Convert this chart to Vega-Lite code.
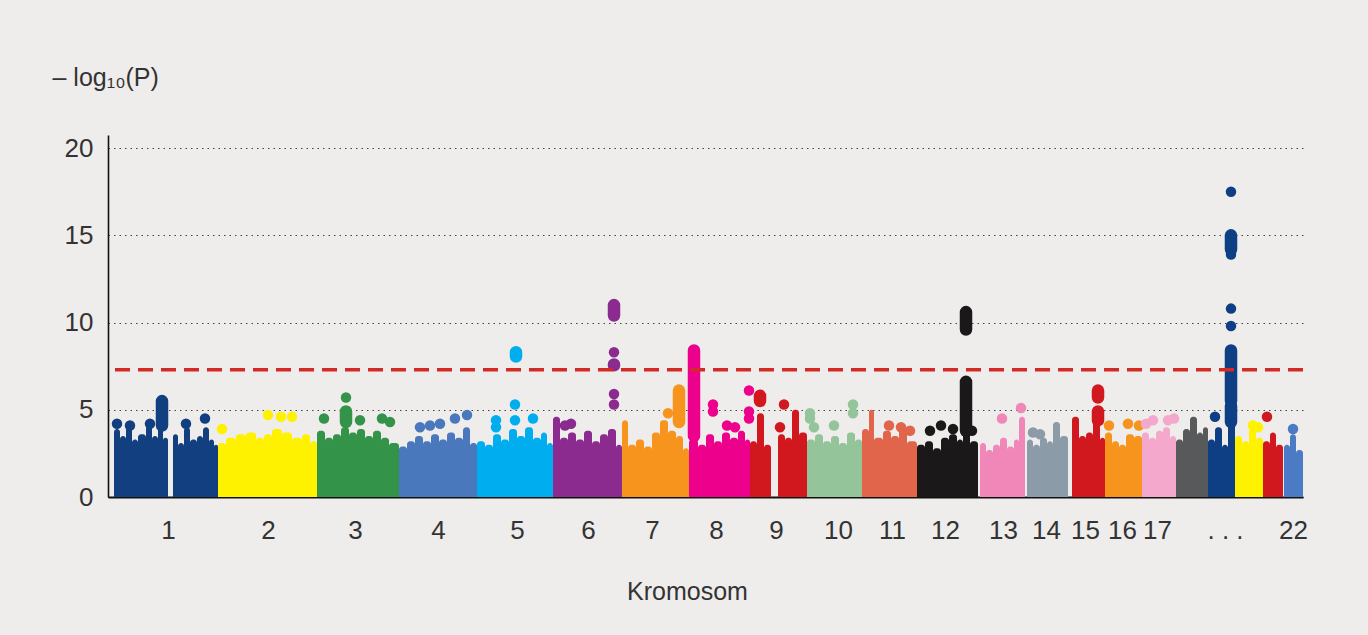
{
  "$schema": "https://vega.github.io/schema/vega-lite/v6.json",
  "width": 1195,
  "height": 362,
  "autosize": {"type": "none"},
  "padding": {"left": 108, "top": 135, "right": 65, "bottom": 138},
  "background": "#eeedeb",
  "config": {
    "view": {"stroke": null},
    "font": "Liberation Sans",
    "axis": {"labelFont": "Liberation Sans", "titleFont": "Liberation Sans", "labelColor": "#333333", "titleColor": "#333333"}
  },
  "datasets": {
    "mass": [
      {"chr": "1", "x": 114, "x2": 120, "top": 3.9},
      {"chr": "1", "x": 120, "x2": 126, "top": 3.5},
      {"chr": "1", "x": 126, "x2": 132, "top": 4.0},
      {"chr": "1", "x": 132, "x2": 138, "top": 3.3},
      {"chr": "1", "x": 138, "x2": 146, "top": 3.6},
      {"chr": "1", "x": 146, "x2": 152, "top": 4.1},
      {"chr": "1", "x": 152, "x2": 158, "top": 3.5},
      {"chr": "1", "x": 158, "x2": 163, "top": 4.3},
      {"chr": "1", "x": 163, "x2": 168, "top": 3.4},
      {"chr": "1", "x": 173, "x2": 178, "top": 3.6},
      {"chr": "1", "x": 178, "x2": 184, "top": 3.1},
      {"chr": "1", "x": 184, "x2": 190, "top": 4.0},
      {"chr": "1", "x": 190, "x2": 197, "top": 3.3},
      {"chr": "1", "x": 197, "x2": 203, "top": 3.5},
      {"chr": "1", "x": 203, "x2": 209, "top": 4.0},
      {"chr": "1", "x": 209, "x2": 214, "top": 3.3},
      {"chr": "1", "x": 214, "x2": 218, "top": 3.0},
      {"chr": "2", "x": 218, "x2": 226, "top": 3.1},
      {"chr": "2", "x": 226, "x2": 236, "top": 3.4},
      {"chr": "2", "x": 236, "x2": 246, "top": 3.6},
      {"chr": "2", "x": 246, "x2": 256, "top": 3.7},
      {"chr": "2", "x": 256, "x2": 264, "top": 3.4},
      {"chr": "2", "x": 264, "x2": 272, "top": 3.6},
      {"chr": "2", "x": 272, "x2": 282, "top": 3.9},
      {"chr": "2", "x": 282, "x2": 292, "top": 3.7},
      {"chr": "2", "x": 292, "x2": 302, "top": 3.4},
      {"chr": "2", "x": 302, "x2": 310, "top": 3.6},
      {"chr": "2", "x": 310, "x2": 317, "top": 3.2},
      {"chr": "3", "x": 317, "x2": 325, "top": 3.8},
      {"chr": "3", "x": 325, "x2": 333, "top": 3.4},
      {"chr": "3", "x": 333, "x2": 341, "top": 3.6},
      {"chr": "3", "x": 341, "x2": 349, "top": 4.0},
      {"chr": "3", "x": 349, "x2": 357, "top": 3.7},
      {"chr": "3", "x": 357, "x2": 365, "top": 3.9},
      {"chr": "3", "x": 365, "x2": 373, "top": 3.5},
      {"chr": "3", "x": 373, "x2": 381, "top": 3.8},
      {"chr": "3", "x": 381, "x2": 389, "top": 3.4},
      {"chr": "3", "x": 389, "x2": 399, "top": 3.1},
      {"chr": "4", "x": 399, "x2": 407, "top": 2.9},
      {"chr": "4", "x": 407, "x2": 415, "top": 3.2},
      {"chr": "4", "x": 415, "x2": 423, "top": 3.5},
      {"chr": "4", "x": 423, "x2": 431, "top": 3.2},
      {"chr": "4", "x": 431, "x2": 439, "top": 3.6},
      {"chr": "4", "x": 439, "x2": 447, "top": 3.3},
      {"chr": "4", "x": 447, "x2": 455, "top": 3.7},
      {"chr": "4", "x": 455, "x2": 463, "top": 3.4},
      {"chr": "4", "x": 463, "x2": 470, "top": 4.0},
      {"chr": "4", "x": 470, "x2": 477, "top": 3.1},
      {"chr": "5", "x": 477, "x2": 485, "top": 3.2},
      {"chr": "5", "x": 485, "x2": 493, "top": 3.0},
      {"chr": "5", "x": 493, "x2": 501, "top": 3.6},
      {"chr": "5", "x": 501, "x2": 509, "top": 3.3},
      {"chr": "5", "x": 509, "x2": 517, "top": 3.9},
      {"chr": "5", "x": 517, "x2": 525, "top": 3.5},
      {"chr": "5", "x": 525, "x2": 533, "top": 4.0},
      {"chr": "5", "x": 533, "x2": 541, "top": 3.4},
      {"chr": "5", "x": 541, "x2": 547, "top": 3.7},
      {"chr": "5", "x": 547, "x2": 553, "top": 3.1},
      {"chr": "6", "x": 553, "x2": 560, "top": 4.6},
      {"chr": "6", "x": 560, "x2": 568, "top": 3.4},
      {"chr": "6", "x": 568, "x2": 576, "top": 3.7},
      {"chr": "6", "x": 576, "x2": 584, "top": 3.3},
      {"chr": "6", "x": 584, "x2": 592, "top": 3.8},
      {"chr": "6", "x": 592, "x2": 600, "top": 3.2},
      {"chr": "6", "x": 600, "x2": 608, "top": 3.6},
      {"chr": "6", "x": 608, "x2": 616, "top": 3.9},
      {"chr": "6", "x": 616, "x2": 622, "top": 3.0},
      {"chr": "7", "x": 622, "x2": 628, "top": 4.4},
      {"chr": "7", "x": 628, "x2": 636, "top": 3.0},
      {"chr": "7", "x": 636, "x2": 644, "top": 3.3},
      {"chr": "7", "x": 644, "x2": 652, "top": 2.9},
      {"chr": "7", "x": 652, "x2": 660, "top": 3.7},
      {"chr": "7", "x": 660, "x2": 668, "top": 4.4},
      {"chr": "7", "x": 668, "x2": 676, "top": 3.8},
      {"chr": "7", "x": 676, "x2": 683, "top": 3.5},
      {"chr": "7", "x": 683, "x2": 689, "top": 2.8},
      {"chr": "8", "x": 689, "x2": 698, "top": 3.3},
      {"chr": "8", "x": 698, "x2": 706, "top": 3.0},
      {"chr": "8", "x": 706, "x2": 714, "top": 3.6},
      {"chr": "8", "x": 714, "x2": 722, "top": 3.2},
      {"chr": "8", "x": 722, "x2": 730, "top": 3.7},
      {"chr": "8", "x": 730, "x2": 738, "top": 3.4},
      {"chr": "8", "x": 738, "x2": 745, "top": 3.8},
      {"chr": "8", "x": 745, "x2": 750, "top": 3.3},
      {"chr": "9", "x": 750, "x2": 757, "top": 3.2},
      {"chr": "9", "x": 757, "x2": 764, "top": 4.8},
      {"chr": "9", "x": 764, "x2": 771, "top": 3.0},
      {"chr": "9", "x": 778, "x2": 785, "top": 3.6},
      {"chr": "9", "x": 785, "x2": 792, "top": 3.4},
      {"chr": "9", "x": 792, "x2": 799, "top": 5.0},
      {"chr": "9", "x": 799, "x2": 807, "top": 3.7},
      {"chr": "10", "x": 807, "x2": 815, "top": 3.3},
      {"chr": "10", "x": 815, "x2": 823, "top": 3.6},
      {"chr": "10", "x": 823, "x2": 831, "top": 3.2},
      {"chr": "10", "x": 831, "x2": 839, "top": 3.5},
      {"chr": "10", "x": 839, "x2": 847, "top": 3.1},
      {"chr": "10", "x": 847, "x2": 855, "top": 3.7},
      {"chr": "10", "x": 855, "x2": 862, "top": 3.3},
      {"chr": "11", "x": 862, "x2": 869, "top": 3.9},
      {"chr": "11", "x": 869, "x2": 874, "top": 5.0},
      {"chr": "11", "x": 874, "x2": 883, "top": 3.4},
      {"chr": "11", "x": 883, "x2": 891, "top": 3.8},
      {"chr": "11", "x": 891, "x2": 899, "top": 3.5},
      {"chr": "11", "x": 899, "x2": 907, "top": 3.9},
      {"chr": "11", "x": 907, "x2": 917, "top": 3.2},
      {"chr": "12", "x": 917, "x2": 925, "top": 3.0},
      {"chr": "12", "x": 925, "x2": 933, "top": 3.2},
      {"chr": "12", "x": 933, "x2": 941, "top": 2.8},
      {"chr": "12", "x": 941, "x2": 949, "top": 3.4},
      {"chr": "12", "x": 949, "x2": 957, "top": 3.6},
      {"chr": "12", "x": 957, "x2": 963, "top": 3.3},
      {"chr": "12", "x": 963, "x2": 970, "top": 4.5},
      {"chr": "12", "x": 970, "x2": 978, "top": 3.2},
      {"chr": "13", "x": 980, "x2": 986, "top": 3.1},
      {"chr": "13", "x": 986, "x2": 993, "top": 2.7},
      {"chr": "13", "x": 993, "x2": 1000, "top": 3.0},
      {"chr": "13", "x": 1000, "x2": 1007, "top": 3.4},
      {"chr": "13", "x": 1007, "x2": 1014, "top": 2.9},
      {"chr": "13", "x": 1014, "x2": 1019, "top": 3.3},
      {"chr": "13", "x": 1019, "x2": 1025, "top": 4.6},
      {"chr": "14", "x": 1027, "x2": 1033, "top": 3.3},
      {"chr": "14", "x": 1033, "x2": 1040, "top": 3.0},
      {"chr": "14", "x": 1040, "x2": 1047, "top": 3.4},
      {"chr": "14", "x": 1047, "x2": 1053, "top": 3.2},
      {"chr": "14", "x": 1053, "x2": 1060, "top": 4.3},
      {"chr": "14", "x": 1060, "x2": 1068, "top": 3.5},
      {"chr": "15", "x": 1072, "x2": 1079, "top": 4.6},
      {"chr": "15", "x": 1079, "x2": 1086, "top": 3.5},
      {"chr": "15", "x": 1086, "x2": 1093, "top": 3.7},
      {"chr": "15", "x": 1093, "x2": 1100, "top": 4.8},
      {"chr": "15", "x": 1100, "x2": 1105, "top": 3.4},
      {"chr": "16", "x": 1105, "x2": 1112, "top": 3.7},
      {"chr": "16", "x": 1112, "x2": 1119, "top": 3.2},
      {"chr": "16", "x": 1119, "x2": 1126, "top": 3.0},
      {"chr": "16", "x": 1126, "x2": 1134, "top": 3.6},
      {"chr": "16", "x": 1134, "x2": 1142, "top": 3.5},
      {"chr": "17", "x": 1142, "x2": 1149, "top": 3.7},
      {"chr": "17", "x": 1149, "x2": 1156, "top": 3.4},
      {"chr": "17", "x": 1156, "x2": 1163, "top": 3.8},
      {"chr": "17", "x": 1163, "x2": 1170, "top": 4.0},
      {"chr": "17", "x": 1170, "x2": 1176, "top": 3.5},
      {"chr": "18", "x": 1176, "x2": 1183, "top": 3.3},
      {"chr": "18", "x": 1183, "x2": 1190, "top": 3.9},
      {"chr": "18", "x": 1190, "x2": 1197, "top": 4.6},
      {"chr": "18", "x": 1197, "x2": 1203, "top": 3.7},
      {"chr": "18", "x": 1203, "x2": 1208, "top": 4.0},
      {"chr": "19", "x": 1208, "x2": 1215, "top": 3.3},
      {"chr": "19", "x": 1215, "x2": 1222, "top": 4.0},
      {"chr": "19", "x": 1222, "x2": 1228, "top": 3.0},
      {"chr": "19", "x": 1228, "x2": 1235, "top": 4.4},
      {"chr": "20", "x": 1235, "x2": 1242, "top": 3.5},
      {"chr": "20", "x": 1242, "x2": 1249, "top": 3.2},
      {"chr": "20", "x": 1249, "x2": 1256, "top": 3.9},
      {"chr": "20", "x": 1256, "x2": 1263, "top": 3.4},
      {"chr": "21", "x": 1263, "x2": 1270, "top": 3.2},
      {"chr": "21", "x": 1270, "x2": 1276, "top": 3.7},
      {"chr": "21", "x": 1276, "x2": 1283, "top": 3.0},
      {"chr": "22", "x": 1284, "x2": 1290, "top": 3.0},
      {"chr": "22", "x": 1290, "x2": 1296, "top": 3.6},
      {"chr": "22", "x": 1296, "x2": 1303, "top": 2.7}
    ],
    "spikes": [
      {"chr": "1", "x": 162, "lo": 4.1, "hi": 5.5},
      {"chr": "3", "x": 346, "lo": 4.3, "hi": 4.9},
      {"chr": "5", "x": 516, "lo": 8.05, "hi": 8.3},
      {"chr": "6", "x": 614, "lo": 10.4, "hi": 11.0},
      {"chr": "6", "x": 614, "lo": 7.55, "hi": 7.6},
      {"chr": "7", "x": 679, "lo": 4.3, "hi": 6.1},
      {"chr": "8", "x": 694, "lo": 3.5, "hi": 8.4},
      {"chr": "9", "x": 760, "lo": 5.5, "hi": 5.8},
      {"chr": "12", "x": 966, "lo": 9.6, "hi": 10.6},
      {"chr": "12", "x": 966, "lo": 3.8, "hi": 6.6},
      {"chr": "15", "x": 1098, "lo": 5.7, "hi": 6.1},
      {"chr": "15", "x": 1098, "lo": 4.4, "hi": 4.9},
      {"chr": "19", "x": 1231, "lo": 5.5, "hi": 8.4},
      {"chr": "19", "x": 1231, "lo": 4.3, "hi": 5.2},
      {"chr": "19", "x": 1231, "lo": 14.2, "hi": 15.0}
    ],
    "dots": [
      {"chr": "1", "x": 117, "y": 4.2},
      {"chr": "1", "x": 130, "y": 4.1},
      {"chr": "1", "x": 150, "y": 4.2},
      {"chr": "1", "x": 186, "y": 4.2},
      {"chr": "1", "x": 205, "y": 4.5},
      {"chr": "2", "x": 222, "y": 3.9},
      {"chr": "2", "x": 268, "y": 4.7},
      {"chr": "2", "x": 281, "y": 4.6},
      {"chr": "2", "x": 292, "y": 4.6},
      {"chr": "3", "x": 346, "y": 5.7},
      {"chr": "3", "x": 324, "y": 4.5},
      {"chr": "3", "x": 360, "y": 4.4},
      {"chr": "3", "x": 382, "y": 4.5},
      {"chr": "3", "x": 390, "y": 4.3},
      {"chr": "4", "x": 420, "y": 4.0},
      {"chr": "4", "x": 430, "y": 4.1},
      {"chr": "4", "x": 440, "y": 4.2},
      {"chr": "4", "x": 455, "y": 4.5},
      {"chr": "4", "x": 467, "y": 4.7},
      {"chr": "5", "x": 496, "y": 4.4},
      {"chr": "5", "x": 496, "y": 4.0},
      {"chr": "5", "x": 515, "y": 5.3},
      {"chr": "5", "x": 515, "y": 4.4},
      {"chr": "5", "x": 533, "y": 4.5},
      {"chr": "6", "x": 614, "y": 8.3},
      {"chr": "6", "x": 614, "y": 5.9},
      {"chr": "6", "x": 614, "y": 5.3},
      {"chr": "6", "x": 565, "y": 4.1},
      {"chr": "6", "x": 571, "y": 4.2},
      {"chr": "7", "x": 668, "y": 4.8},
      {"chr": "8", "x": 713, "y": 5.3},
      {"chr": "8", "x": 713, "y": 4.9},
      {"chr": "8", "x": 727, "y": 4.1},
      {"chr": "8", "x": 735, "y": 4.0},
      {"chr": "8", "x": 749, "y": 6.1},
      {"chr": "8", "x": 749, "y": 4.9},
      {"chr": "8", "x": 749, "y": 4.5},
      {"chr": "9", "x": 784, "y": 5.3},
      {"chr": "9", "x": 780, "y": 4.0},
      {"chr": "10", "x": 810, "y": 4.8},
      {"chr": "10", "x": 810, "y": 4.5},
      {"chr": "10", "x": 814, "y": 4.0},
      {"chr": "10", "x": 834, "y": 4.1},
      {"chr": "10", "x": 853, "y": 5.3},
      {"chr": "10", "x": 853, "y": 4.8},
      {"chr": "11", "x": 889, "y": 4.1},
      {"chr": "11", "x": 901, "y": 4.0},
      {"chr": "11", "x": 910, "y": 3.8},
      {"chr": "12", "x": 930, "y": 3.8},
      {"chr": "12", "x": 941, "y": 4.1},
      {"chr": "12", "x": 953, "y": 3.9},
      {"chr": "12", "x": 972, "y": 3.8},
      {"chr": "13", "x": 1021, "y": 5.1},
      {"chr": "13", "x": 1002, "y": 4.5},
      {"chr": "14", "x": 1033, "y": 3.7},
      {"chr": "14", "x": 1040, "y": 3.6},
      {"chr": "16", "x": 1109, "y": 4.1},
      {"chr": "16", "x": 1128, "y": 4.2},
      {"chr": "16", "x": 1139, "y": 4.1},
      {"chr": "17", "x": 1146, "y": 4.2},
      {"chr": "17", "x": 1153, "y": 4.4},
      {"chr": "17", "x": 1168, "y": 4.4},
      {"chr": "17", "x": 1174, "y": 4.5},
      {"chr": "19", "x": 1215, "y": 4.6},
      {"chr": "19", "x": 1231, "y": 9.8},
      {"chr": "19", "x": 1231, "y": 10.8},
      {"chr": "19", "x": 1231, "y": 13.9},
      {"chr": "19", "x": 1231, "y": 17.5},
      {"chr": "20", "x": 1253, "y": 4.1},
      {"chr": "20", "x": 1258, "y": 4.0},
      {"chr": "21", "x": 1267, "y": 4.6},
      {"chr": "22", "x": 1293, "y": 3.9}
    ],
    "threshold": [{"p": 7.3}]
  },
  "layer": [
    {
      "data": {"name": "mass"},
      "mark": {"type": "rect", "cornerRadiusTopLeft": 3, "cornerRadiusTopRight": 3},
      "encoding": {
        "x": {
          "field": "x", "type": "quantitative",
          "scale": {"domain": [108, 1303], "nice": false, "zero": false},
          "axis": {
            "values": [168, 268, 355, 438, 517, 588, 652, 716, 776, 838, 892, 945, 1003, 1046, 1085, 1122, 1157, 1225, 1293],
            "labelExpr": "['1','2','3','4','5','6','7','8','9','10','11','12','13','14','15','16','17','. . .','22'][indexof([168,268,355,438,517,588,652,716,776,838,892,945,1003,1046,1085,1122,1157,1225,1293], datum.value)]",
            "ticks": false, "grid": false,
            "domainColor": "#111111", "domainWidth": 2,
            "labelFontSize": 26, "labelPadding": 20, "labelFlush": false, "labelOverlap": false,
            "title": "Kromosom", "titleFontSize": 25, "titleFontWeight": "normal",
            "titleX": 579, "titleY": 102, "titleAlign": "center", "titleBaseline": "alphabetic"
          }
        },
        "x2": {"field": "x2"},
        "y": {
          "field": "top", "type": "quantitative",
          "scale": {"domain": [0, 20.75], "nice": false},
          "axis": {
            "values": [0, 5, 10, 15, 20],
            "ticks": false,
            "domainColor": "#111111", "domainWidth": 1.6,
            "grid": true, "gridColor": "#444444", "gridDash": [1.5, 4], "gridWidth": 1.2,
            "labelFontSize": 26, "labelPadding": 15,
            "title": "– log₁₀(P)", "titleAngle": 0, "titleFontSize": 25, "titleFontWeight": "normal",
            "titleX": -56, "titleY": -50, "titleAlign": "left", "titleBaseline": "alphabetic"
          }
        },
        "y2": {"datum": 0},
        "color": {
          "field": "chr", "type": "nominal", "legend": null,
          "scale": {
            "domain": ["1","2","3","4","5","6","7","8","9","10","11","12","13","14","15","16","17","18","19","20","21","22"],
            "range": ["#123f7f","#fff200","#339348","#4a78bd","#00aeef","#8b2a8f","#f7941d","#ec008c","#d1181f","#93c49a","#e0654a","#1a1818","#f087b8","#8c9ba8","#d1181f","#f7941d","#f4a8cb","#58595b","#0e3f85","#fff200","#d1181f","#4a7bc4"]
          }
        }
      }
    },
    {
      "data": {"name": "spikes"},
      "mark": {"type": "rule", "strokeWidth": 12.5, "strokeCap": "round"},
      "encoding": {
        "x": {"field": "x", "type": "quantitative"},
        "y": {"field": "hi", "type": "quantitative"},
        "y2": {"field": "lo"},
        "color": {"field": "chr", "type": "nominal", "legend": null}
      }
    },
    {
      "data": {"name": "dots"},
      "mark": {"type": "circle", "size": 110, "opacity": 1},
      "encoding": {
        "x": {"field": "x", "type": "quantitative"},
        "y": {"field": "y", "type": "quantitative"},
        "color": {"field": "chr", "type": "nominal", "legend": null}
      }
    },
    {
      "data": {"name": "threshold"},
      "mark": {"type": "rule", "color": "#d42a26", "strokeWidth": 3.5, "strokeDash": [15, 8]},
      "encoding": {
        "y": {"field": "p", "type": "quantitative"}
      }
    }
  ]
}
